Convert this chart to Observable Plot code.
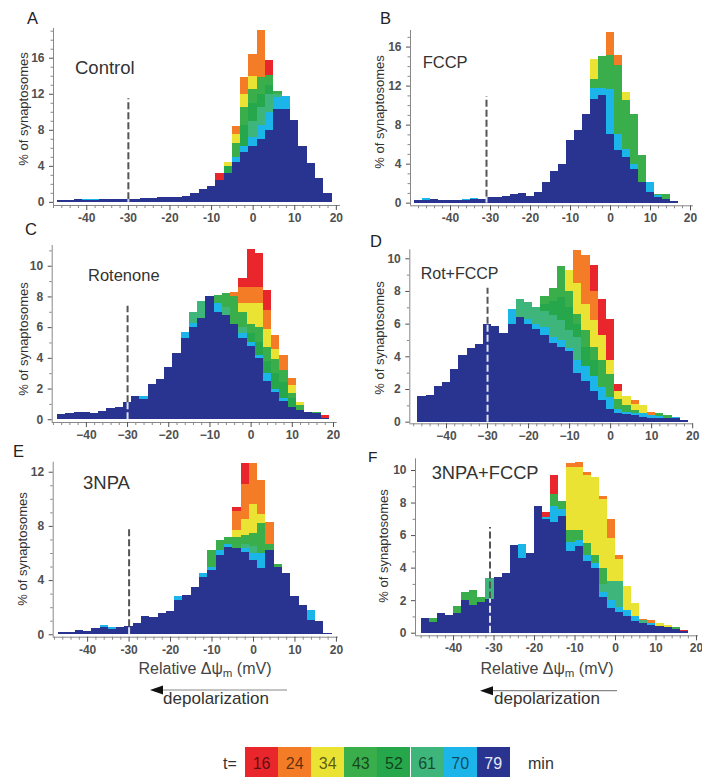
<!DOCTYPE html>
<html><head><meta charset="utf-8">
<script src="https://cdn.jsdelivr.net/npm/d3@7"></script>
<script src="https://cdn.jsdelivr.net/npm/@observablehq/plot@0.6"></script>
<style>
body{margin:0;background:#fff;font-family:"Liberation Sans",Arial,sans-serif;}
#root{position:relative;width:702px;height:777px;overflow:hidden;background:#fff;}
.abs{position:absolute;white-space:nowrap;line-height:1;}
#root svg.plotsvg{position:absolute;background:transparent;max-width:none;}
</style></head><body><div id="root"></div>
<script>
// ---------- series definitions ----------
const times = [16, 24, 34, 43, 52, 61, 70, 79];
const palette = ["#e8262b", "#f47c27", "#ebe334", "#3aae4a", "#27a74b", "#3db57b", "#1cb5ea", "#28348f"];

// ---------- Panel A: Control (2 mV bins, first left edge -47) ----------
const A_start = -47;
const A16 = [0,0,0,0,0,0,0,0,0,0, 0,0,0,0,0,0,0,0,0,3.2, 0,0,0,0,0,15.8,0,0,0,0, 0,0,0];
const A24 = [0,0,0,0,0,0,0,0,0,0, 0,0,0,0,0,0,0,0,0,0, 0,8.4,13.9,16.4,19.1,0,0,0,0,0, 0,0,0];
const A34 = [0,0,0,0,0,0,0,0,0,0, 0,0,0,0,0,0,0,0,0,0, 4.4,7.5,12.0,14.0,0,0,0,0,0,0, 0,0,0];
const A43 = [0,0,0,0,0,0,0,0,0,0, 0,0,0,0,0,0,0,0,0,0, 0,6.5,10.5,12.5,13.9,14.1,12.3,0,0,0, 0,0,0];
const A52 = [0,0,0,0,0,0,0,0,0,0, 0,0,0,0,0,0,0,0,0,0, 4.0,0,8.5,11.0,12.0,13.0,0,0,0,0, 0,0,0];
const A61 = [0,0,0,0,0,0,0,0,0,0, 0,0,0,0,0,0,0,0,0,0, 0,0,0,9.0,10.5,12.0,12.0,0,0,0, 0,0,0];
const A70 = [0,0,0,0.35,0.3,0,0,0,0,0, 0,0,0,0,0,0,0,0,0,0, 0,5.0,6.2,7.2,8.5,10.0,11.6,11.7,0,0, 0,0,0];
const A79 = [0.2,0.2,0.3,0.2,0.25,0.3,0.3,0.35,0.3,0.35, 0.4,0.4,0.5,0.55,0.55,0.7,1.0,1.4,1.8,2.4, 3.2,4.4,5.5,6.2,7.0,8.0,10.3,10.3,9.1,6.2, 4.3,2.6,1.0];

// ---------- Panel B: FCCP (first left edge -49) ----------
const B_start = -49;
const B16 = [0,0,0,0,0,0,0,0,0,0, 0,0,0,0,0,0,0,0,0,0, 0,0,0,0,0,0,0,0,0,0, 0,0,0];
const B24 = [0,0,0,0,0,0,0,0,0,0, 0,0,0,0,0,0,0,0,0,0, 0,0,0,0,17.5,15.1,0,0,0,0, 0,0,0];
const B34 = [0,0,0,0,0,0,0,0,0,0, 0,0,0,0,0,0,0,0,0,0, 0,0,14.7,0,0,0,11.3,0,0,0, 0,0,0];
const B43 = [0,0,0,0,0,0,0,0,0,0, 0,0,0,0,0,0,0,0,0,0, 0,0,12.7,15.0,15.1,14.1,10.5,9.1,4.9,0, 0.9,0.9,0];
const B52 = [0,0,0,0,0,0,0,0,0,0, 0,0,0,0,0,0,0,0,0,0, 0,0,0,0,0,0,0,0,0,0, 0,0,0];
const B61 = [0,0,0,0,0,0,0,0,0,0, 0,0,0,0,0,0,0,0,0,0, 0,0,0,0,0,0,0,0,0,0, 0,0,0];
const B70 = [0,0.45,0,0,0,0,0.4,0.45,0,0, 0,0,0,0,0,0,0,0,0,0, 0,0,11.8,11.8,11.7,7.0,5.5,4.0,0,2.1, 0.8,0,0];
const B79 = [0.25,0.3,0.35,0.3,0.3,0.25,0.3,0.35,0.35,0.6, 0.55,0.7,0.85,1.0,0.7,1.1,2.1,3.2,4.0,6.4, 7.4,9.1,10.6,11.0,7.0,5.4,4.7,3.5,2.1,1.1, 0.6,0.35,0.2];

// ---------- Panel C: Rotenone (first left edge -47) ----------
const C_start = -47;
const C16 = [0,0,0,0,0,0,0,0,0,0, 0,0,0,0,0,0,0,0,0,0, 0,0,9.2,11.1,10.8,8.4,0,0,0,0, 0,0,0.3];
const C24 = [0,0,0,0,0,0,0,0,0,0, 0,0,0,0,0,0,0,0,0,0, 0,8.3,8.6,8.6,8.6,7.1,5.5,4.2,2.7,0, 0,0,0];
const C34 = [0,0,0,0,0,0,0,0,0,0, 0,0,0,0,0,0,0,0,0,0, 0,0,7.6,7.6,7.6,5.9,4.6,0,2.2,1.15, 0,0,0];
const C43 = [0,0,0,0,0,0,0,0,0,0, 0,0,0,0,0,0,0,0,0,8.1, 8.2,8.0,7.0,6.2,6.0,4.7,3.9,3.2,1.7,0.9, 0.5,0.5,0];
const C52 = [0,0,0,0,0,0,0,0,0,0, 0,0,0,0,0,0,0,0,0,0, 0,0,0,5.6,5.0,3.8,3.0,2.4,1.4,0, 0,0,0];
const C61 = [0,0,0,0,0,0,0,0,0,0, 0,0,0,0,0,0,7.0,7.7,0,0, 7.3,0,6.0,0,0,0,0,0,0,0, 0,0,0];
const C70 = [0,0,0,0,0,0,0,0,0,0, 1.5,0,0,0,0,5.7,6.3,0,0,7.6, 0,0,5.6,5.0,4.2,3.0,2.0,1.4,0,0, 0,0,0];
const C79 = [0.35,0.4,0.5,0.45,0.4,0.55,0.7,0.8,1.1,1.5, 1.35,2.3,2.6,3.4,4.3,5.3,6.0,6.6,8.0,7.0, 6.8,6.2,5.3,4.8,4.0,2.5,1.8,1.2,0.8,0.6, 0.5,0.4,0.1];

// ---------- Panel D: Rot+FCCP (first left edge -47) ----------
const D_start = -47;
const D16 = [0,0,0,0,0,0,0,0,0,0, 0,0,0,0,0,0,0,0,0,0, 0,9.6,7.5,6.3,2.3,0,0,0,0,0, 0,0,0];
const D24 = [0,0,0,0,0,0,0,0,0,0, 0,0,0,0,0,0,0,0,0,10.5, 10.2,8.0,0,0,0,0,1.3,0,0.6,0, 0,0,0];
const D34 = [0,0,0,0,0,0,0,0,0,0, 0,0,0,0,0,0,0,0,9.3,8.5, 7.2,6.2,5.3,3.8,1.9,1.6,1.1,1.0,0,0, 0,0,0];
const D43 = [0,0,0,0,0,0,0,0,0,0, 0,0,0,0,0,7.7,8.2,9.5,8.0,6.6, 5.6,4.6,3.8,2.9,1.4,1.0,0.7,0,0,0.5, 0.4,0,0];
const D52 = [0,0,0,0,0,0,0,0,0,0, 0,0,0,0,0,7.2,7.4,7.6,7.0,6.0, 4.6,3.8,0,0,0,0,0,0,0,0, 0,0,0];
const D61 = [0,0,0,0,0,0,0,0,0,0, 0,0,7.5,7.3,7.0,6.8,6.5,6.2,5.6,5.2, 0,0,0,0,0,0,0,0,0,0, 0,0,0];
const D70 = [0,0,0,0,0,0,0,0,0,0, 0,6.9,0,6.3,6.0,5.8,5.2,5.0,4.5,3.8, 3.4,2.8,2.1,1.5,0.8,0.6,0.5,0.5,0.4,0.35, 0,0.3,0];
const D79 = [1.6,1.65,2.2,2.45,3.2,4.1,4.5,4.75,6.0,5.85, 5.45,6.0,6.4,6.0,5.7,5.3,4.8,4.6,4.3,3.0, 2.5,1.9,1.35,0.8,0.5,0.45,0.4,0.3,0.25,0.25, 0.2,0.2,0.1];

// ---------- Panel E: 3NPA (first left edge -47) ----------
const E_start = -47;
const E16 = [0,0,0,0,0,0,0,0,0,0, 0,0,0,0,0,0,0,0,0,0, 0,9.4,12.65,0,0,0,0,0,0,0, 0,0,0];
const E24 = [0,0,0,0,0,0,0,0,0,0, 0,0,0,0,0,0,0,0,0,0, 0,9.1,11.1,12.65,11.4,8.3,0,0,0,0, 0,0,0];
const E34 = [0,0,0,0,0,0,0,0,0,0, 0,0,0,0,0,0,0,0,0,0, 0,7.7,8.5,9.65,8.9,0,0,0,0,0, 0,0,0];
const E43 = [0,0,0,0,0,0,0,0,0,0, 0,0,0,0,0,0,0,0,6.2,6.95, 7.2,7.2,7.3,7.5,8.2,6.7,5.2,0,0,0, 0,0,0];
const E52 = [0,0,0,0,0,0,0,0,0,0, 0,0,0,0,0,0,0,0,0,0, 0,0,0,0,0,0,0,0,0,0, 0,0,0];
const E61 = [0,0,0,0,0,0,0,0,0,0, 0,0,0,0,0,0,0,0,0,0, 0,0,6.7,6.5,0,0,0,0,0,0, 0,0,0];
const E70 = [0,0,0,0,0,0.65,0.55,0,0,0, 0,0,0,0,2.8,0,0,4.5,5.0,6.2, 6.65,0,6.4,6.0,6.0,0,0,0,0,0, 1.8,0,0];
const E79 = [0.2,0.15,0.3,0.25,0.45,0.55,0.4,0.55,0.6,0.85, 1.35,1.25,1.6,1.75,2.5,2.9,3.5,4.25,4.75,5.85, 6.45,6.35,6.1,5.5,4.9,6.2,5.0,4.5,2.8,2.15, 1.05,0.95,0.1];

// ---------- Panel F: 3NPA+FCCP (first left edge -48) ----------
const F_start = -48;
const F16 = [0,0,0,0,0,0,0,0,0,0, 0,0,0,0,0,7.4,9.7,0,0,0, 0,0,0,0,0,0,0,0,0,0, 0,0,0.15];
const F24 = [0,0,0,0,0,0,0,0,0,0, 0,0,0,0,0,0,0,0,10.45,10.5, 9.9,0,8.4,7.0,4.8,0,0,0.85,0.8,0, 0,0,0];
const F34 = [0,0,0,0,0,0,0,0,0,0, 0,0,0,0,0,0,0,0,10.2,10.2, 9.7,9.6,8.2,5.8,4.5,2.9,1.8,0.8,0,0.6, 0.5,0,0];
const F43 = [0,0.9,0,0,1.65,2.5,2.65,2.2,0,0, 0,0,0,0,0,0,8.5,8.1,6.3,6.3, 5.5,4.8,4.0,0,0,0,0,0,0,0, 0,0.35,0];
const F52 = [0,0,0,0,0,0,0,0,0,0, 0,0,0,0,0,0,0,0,0,0, 0,0,0,0,0,0,0,0,0,0, 0,0,0];
const F61 = [0,0,0,0,0,0,0,0,3.35,0, 0,0,0,0,0,0,0,0,0,0, 0,0,3.0,3.2,3.2,0,0,0.75,0,0, 0,0,0];
const F70 = [0,0,0,0,0,0,0,0,0,0, 0,0,5.45,0,0,7.1,7.8,7.6,5.6,5.7, 4.8,4.3,2.5,2.0,1.6,1.4,1.0,0,0.6,0, 0,0,0];
const F79 = [0.9,0.65,1.2,1.1,1.2,2.0,1.7,1.9,2.1,3.4, 3.7,5.4,4.6,4.9,7.8,7.0,6.8,7.2,5.0,5.3, 4.4,4.0,2.2,1.5,1.3,1.0,0.7,0.6,0.5,0.4, 0.35,0.25,0.1];

// ---------- tick values ----------
const xMajorTicks = [-40, -30, -20, -10, 0, 10, 20];

// ---------- layout ----------
const root = document.getElementById("root");
const hyphen = d => String(d);            // "-40" style labels (A, B, E, F)
const minus = d => String(d).replace("-", "\u2212"); // "−40" style labels (C, D)
const panels = [
  {start: A_start, series: [A16,A24,A34,A43,A52,A61,A70,A79], left: 0,   top: 0,   width: 350, height: 230, mL: 53,   mR: 10,   mT: 28,   mB: 25,   xd: [-48, 21],      yd: [-0.35, 19.3],  yMajor: [0,4,8,12,16], dashX: -30, dashTop: 11.5, fmt: hyphen},
  {start: B_start, series: [B16,B24,B34,B43,B52,B61,B70,B79], left: 350, top: 0,   width: 352, height: 230, mL: 60,   mR: 9,    mT: 30,   mB: 24.7, xd: [-50, 20.75],   yd: [-0.27, 17.7],  yMajor: [0,4,8,12,16], dashX: -31, dashTop: 10.9, fmt: hyphen},
  {start: C_start, series: [C16,C24,C34,C43,C52,C61,C70,C79], left: 0,   top: 220, width: 350, height: 230, mL: 51.7, mR: 13.3, mT: 25,   mB: 28,   xd: [-48.3, 20.9],  yd: [-0.18, 11.35], yMajor: [0,2,4,6,8,10], dashX: -30, dashTop: 7.4, fmt: minus},
  {start: D_start, series: [D16,D24,D34,D43,D52,D61,D70,D79], left: 350, top: 220, width: 352, height: 230, mL: 59.3, mR: 9,    mT: 29.3, mB: 26.7, xd: [-48.95, 20.2], yd: [-0.1, 10.55],  yMajor: [0,2,4,6,8,10], dashX: -30, dashTop: 8.2, fmt: minus},
  {start: E_start, series: [E16,E24,E34,E43,E52,E61,E70,E79], left: 0,   top: 440, width: 350, height: 230, mL: 52.7, mR: 12,   mT: 21.7, mB: 33.3, xd: [-48.3, 20.5],  yd: [-0.18, 12.74], yMajor: [0,4,8,12], dashX: -30, dashTop: 7.8, fmt: hyphen},
  {start: F_start, series: [F16,F24,F34,F43,F52,F61,F70,F79], left: 350, top: 440, width: 352, height: 230, mL: 65,   mR: 4,    mT: 18.3, mB: 34.7, xd: [-49.4, 20.5],  yd: [-0.16, 10.72], yMajor: [0,2,4,6,8,10], dashX: -31, dashTop: 6.5, fmt: hyphen}
];

function drawPanel(p) {
  const [x0, x1] = p.xd, [y0, y1] = p.yd;
  const marks = [];
  p.series.forEach((vals, k) => {
    const data = [];
    vals.forEach((v, i) => { if (v > 0) data.push({a: p.start + 2 * i, b: p.start + 2 * i + 2, v, t: times[k]}); });
    marks.push(Plot.rectY(data, {x1: "a", x2: "b", y1: 0, y2: "v", fill: palette[k], shapeRendering: "crispEdges"}));
  });
  const navy = p.series[7];
  const bi = Math.floor((p.dashX - p.start) / 2);
  const nv = navy[bi] || 0;
  marks.push(Plot.ruleX([p.dashX], {y1: nv, y2: p.dashTop, stroke: "#555", strokeWidth: 2, strokeDasharray: "7,3"}));
  marks.push(Plot.ruleX([p.dashX], {y1: 0, y2: nv, stroke: "#dfe2f2", strokeWidth: 2, strokeDasharray: "7,3"}));
  marks.push(Plot.ruleY([y0], {x1: x0, x2: x1, stroke: "#888"}));
  marks.push(Plot.ruleX([x0], {y1: y0, y2: y1, stroke: "#888"}));
  const xMinor = d3.range(-48, 21, 2).filter(v => v >= x0 && v <= x1 && !xMajorTicks.includes(v));
  const xMajor = xMajorTicks.filter(v => v >= x0 && v <= x1);
  const yMinor = d3.range(0, y1, 1).filter(v => !p.yMajor.includes(v));
  marks.push(Plot.axisX({ticks: xMinor, tickSize: 3, tickFormat: () => "", color: "#888", label: null}));
  marks.push(Plot.axisX({ticks: xMajor, tickSize: 5, tickPadding: 3, tickFormat: p.fmt, color: "#505050", label: null}));
  marks.push(Plot.axisY({ticks: yMinor, tickSize: 2.5, tickFormat: () => "", color: "#888", label: null}));
  marks.push(Plot.axisY({ticks: p.yMajor, tickSize: 4, tickPadding: 5, color: "#505050", label: null}));
  const svg = Plot.plot({
    width: p.width, height: p.height,
    marginLeft: p.mL, marginRight: p.mR, marginTop: p.mT, marginBottom: p.mB,
    x: {domain: p.xd, label: null},
    y: {domain: p.yd, label: null},
    style: {fontSize: "12px", fontWeight: "bold", fontFamily: "'Liberation Sans', Arial, sans-serif", background: "transparent", overflow: "visible"},
    marks
  });
  svg.classList.add("plotsvg");
  svg.style.left = p.left + "px";
  svg.style.top = p.top + "px";
  root.appendChild(svg);
}
panels.forEach(drawPanel);

// ---------- text ----------
function addText(html, x, baseline, size, opt = {}) {
  const d = document.createElement("div");
  d.className = "abs";
  d.innerHTML = html;
  d.style.left = x + "px";
  d.style.top = (baseline - 0.8465 * size) + "px";
  d.style.fontSize = size + "px";
  d.style.color = opt.color || "#333";
  if (opt.weight) d.style.fontWeight = opt.weight;
  if (opt.anchor === "middle") d.style.transform = "translateX(-50%)";
  root.appendChild(d);
  return d;
}
function addVText(str, cx, cy, size) {
  const d = document.createElement("div");
  d.className = "abs";
  d.textContent = str;
  d.style.left = cx + "px";
  d.style.top = cy + "px";
  d.style.fontSize = size + "px";
  d.style.color = "#333";
  d.style.transform = "translate(-50%,-50%) rotate(-90deg)";
  root.appendChild(d);
}

const panelLetters = [["A", 27, 23.5, 16.5], ["B", 380, 24, 16.5], ["C", 25, 235, 16.5], ["D", 370, 246.7, 16.5], ["E", 13, 456.7, 16.5], ["F", 368, 461.7, 15.5]];
panelLetters.forEach(([t, x, b, s]) => addText(t, x, b, s, {color: "#222"}));

const conditionLabels = [["Control", 75, 75, 18.5], ["FCCP", 422.7, 68.3, 16.5], ["Rotenone", 88, 280.7, 16.5], ["Rot+FCCP", 420.7, 279.3, 16], ["3NPA", 83, 489.3, 18.5], ["3NPA+FCCP", 431.7, 479.3, 18.3]];
conditionLabels.forEach(([t, x, b, s]) => addText(t, x, b, s, {color: "#333"}));

const yTitle = "% of synaptosomes";
[[23, 109], [379, 112], [23, 339], [379, 338], [22, 549], [383, 546]].forEach(([cx, cy]) => addVText(yTitle, cx, cy, 13));

const xTitle = 'Relative \u0394\u03c8<sub style="font-size:0.72em;vertical-align:-0.3em;line-height:0">m</sub> (mV)';
addText(xTitle, 205, 675, 16, {anchor: "middle", color: "#444"});
addText(xTitle, 547, 675, 16, {anchor: "middle", color: "#444"});
addText("depolarization", 216, 704, 17, {anchor: "middle", color: "#333"});
addText("depolarization", 547, 704, 17, {anchor: "middle", color: "#333"});

// arrows
const ns = "http://www.w3.org/2000/svg";
const deco = document.createElementNS(ns, "svg");
deco.setAttribute("width", 702); deco.setAttribute("height", 777);
deco.style.position = "absolute"; deco.style.left = "0"; deco.style.top = "0"; deco.style.pointerEvents = "none";
[[150, 287, 690], [480, 617, 690.7]].forEach(([xa, xb, y]) => {
  const l = document.createElementNS(ns, "line");
  l.setAttribute("x1", xa + 8); l.setAttribute("x2", xb); l.setAttribute("y1", y); l.setAttribute("y2", y);
  l.setAttribute("stroke", "#888"); l.setAttribute("stroke-width", "1.2");
  deco.appendChild(l);
  const h = document.createElementNS(ns, "polygon");
  h.setAttribute("points", `${xa},${y} ${xa + 13},${y - 4.5} ${xa + 13},${y + 4.5}`);
  h.setAttribute("fill", "#111");
  deco.appendChild(h);
});
root.appendChild(deco);

// ---------- legend ----------
addText("t=", 223, 770, 16, {color: "#333"});
const boxW = 33.1, boxX = 245;
times.forEach((t, k) => {
  const b = document.createElement("div");
  b.className = "abs";
  b.style.left = (boxX + k * boxW) + "px";
  b.style.top = "746.7px";
  b.style.width = boxW + "px";
  b.style.height = "31px";
  b.style.background = palette[k];
  root.appendChild(b);
  addText(String(t), boxX + k * boxW + boxW / 2, 770, 16, {anchor: "middle", color: k === 7 ? "#e6e8f4" : "rgba(0,0,0,0.62)"});
});
addText("min", 528, 770, 16, {color: "#333"});
</script>
</body></html>
